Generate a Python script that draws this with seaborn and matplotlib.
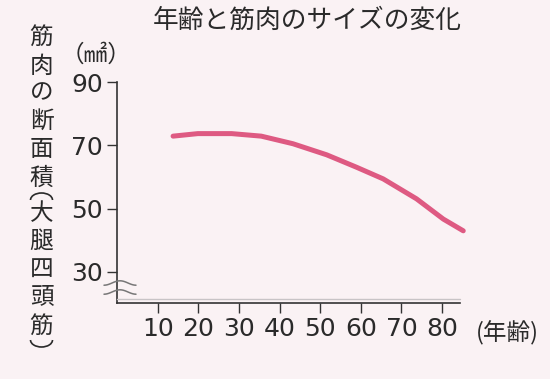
import numpy as np
import pandas as pd
import matplotlib
matplotlib.use('Agg')
import matplotlib.pyplot as plt
from matplotlib.lines import Line2D
from matplotlib.patches import Arc
import seaborn as sns

# values
age = [13.8, 19.9, 28.2, 35.5, 43.3, 51.6, 58.9, 65.5, 73.7, 80.3, 85.2]
size = [72.9, 73.7, 73.7, 72.9, 70.5, 67.0, 63.1, 59.4, 53.1, 46.7, 43.0]

xticks = [10, 20, 30, 40, 50, 60, 70, 80]
yticks = [30, 50, 70, 90]

title = '年齢と筋肉のサイズの変化'
ylabel = '筋肉の断面積(大腿四頭筋)'
unit = '（㎟）'
xlabel = '(年齢)'

sns.set_style('ticks')
plt.rcParams['font.family'] = ['Noto Sans CJK JP', 'DejaVu Sans']

bg = '#faf2f4'
ink = '#333333'
txt = '#2a2a2a'
pink = '#de5a82'

W, H = 550, 379
fig = plt.figure(figsize=(5.5, 3.79), dpi=100, facecolor=bg)
ax = fig.add_axes([117 / W, 1 - 303 / H, (460 - 117) / W, (303 - 82) / H])
ax.set_facecolor(bg)

df = pd.DataFrame({'age': age, 'size': size})
sns.lineplot(data=df, x='age', y='size', ax=ax, color=pink, linewidth=3.6,
             solid_capstyle='round', clip_on=False)

ax.set_xlim(0, 84.4)
ax.set_ylim(20.2, 90)
ax.set_xticks(xticks)
ax.set_yticks(yticks)
ax.tick_params(axis='both', direction='out', length=7, width=1, color=ink,
               labelsize=18, labelcolor=txt)
ax.tick_params(axis='y', pad=3)
ax.tick_params(axis='x', pad=3)
for lab in ax.get_xticklabels() + ax.get_yticklabels():
    lab.set_family('DejaVu Sans')
ax.set_xlabel('')
ax.set_ylabel('')
sns.despine(ax=ax)
for s in ['left', 'bottom']:
    ax.spines[s].set_color(ink)
    ax.spines[s].set_linewidth(1.2)

# thin grey line just above bottom axis
fig.add_artist(Line2D([117 / W, 460 / W], [1 - 298.5 / H, 1 - 298.5 / H],
                      color='#c8c4c6', linewidth=1.0))

# axis break marks
t = np.linspace(0, 1, 40)
for yb in [283, 292]:
    xs = 104 + 32 * t
    ys = yb + 2.2 * np.sin(2 * np.pi * 1.0 * t + np.pi / 2)
    fig.add_artist(Line2D(xs / W, 1 - ys / H, color='#777777', linewidth=1.1))

fig.text(307 / W, 1 - 21 / H, title, ha='center', va='center', fontsize=18.5,
         color=txt)

# vertical y label, one character per row; brackets drawn sideways as arcs
ycent = [37.5, 66, 93, 121.5, 150, 178.5, 200, 213.5, 241, 270, 298, 326, 340]
for ch, yc in zip(ylabel, ycent):
    if ch == '(':
        fig.add_artist(Arc((41.5 / W, 1 - yc / H), 22 / W, 14 / H,
                           theta1=0, theta2=180, color=txt, linewidth=1.2,
                           transform=fig.transFigure))
    elif ch == ')':
        fig.add_artist(Arc((41.5 / W, 1 - yc / H), 22 / W, 14 / H,
                           theta1=180, theta2=360, color=txt, linewidth=1.2,
                           transform=fig.transFigure))
    else:
        fig.text(41.5 / W, 1 - yc / H, ch, ha='center', va='center',
                 fontsize=17, color=txt)

fig.text(96 / W, 1 - 55 / H, unit, ha='center', va='center', fontsize=17,
         color=txt)
fig.text(476 / W, 1 - 333 / H, xlabel, ha='left', va='center', fontsize=17,
         color=txt)

fig.savefig('out.png', dpi=100, facecolor=bg)
